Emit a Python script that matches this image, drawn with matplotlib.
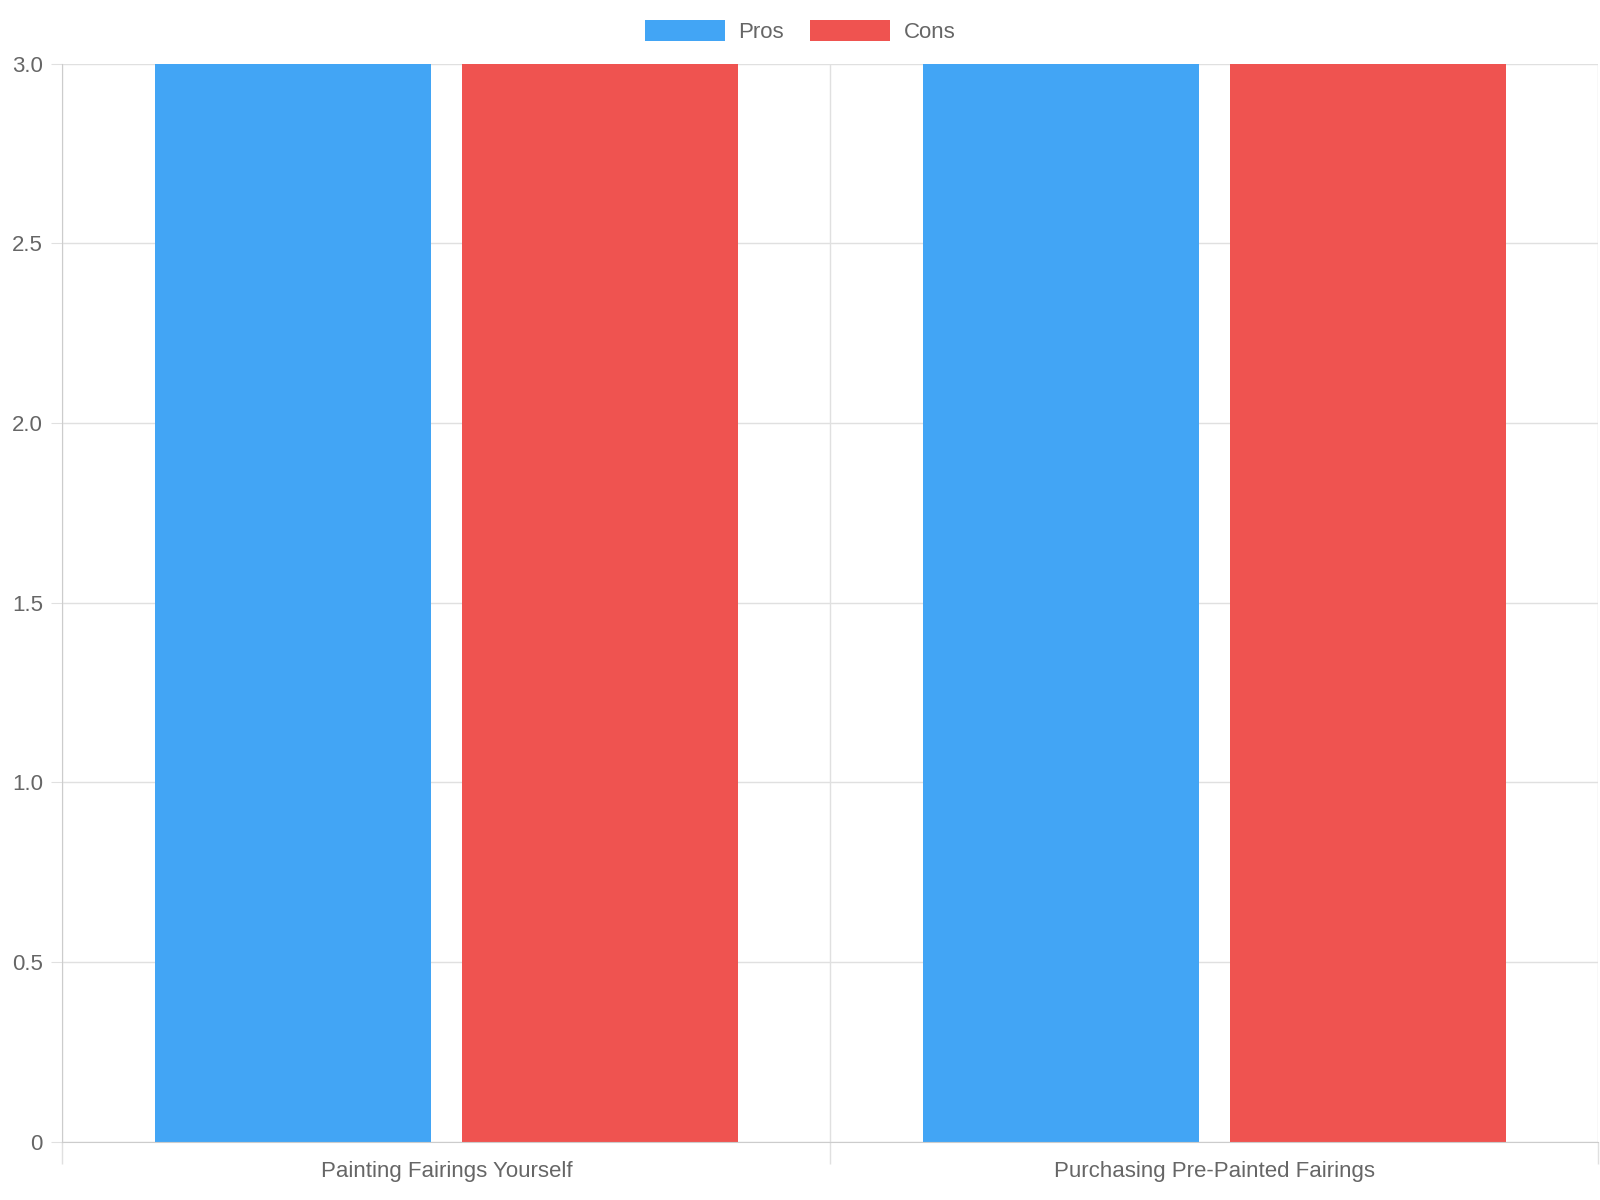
import numpy as np
import matplotlib.pyplot as plt
from matplotlib.ticker import FixedLocator, NullFormatter, FixedFormatter

plt.rcParams['font.family'] = ['Liberation Sans', 'DejaVu Sans']

categories = ["Painting Fairings Yourself", "Purchasing Pre-Painted Fairings"]
pros = [3, 3]
cons = [3, 3]
y_ticks = [0, 0.5, 1.0, 1.5, 2.0, 2.5, 3.0]
y_labels = ["0", "0.5", "1.0", "1.5", "2.0", "2.5", "3.0"]

TEXT = '#666666'
GRID = '#e0e0e0'

fig = plt.figure(figsize=(16, 12), dpi=100)
ax = fig.add_axes([0.039, 0.0485, 0.96, 0.8985])

x = np.arange(len(categories))
ax.bar(x - 0.2, pros, width=0.36, color='#42a5f5', label='Pros')
ax.bar(x + 0.2, cons, width=0.36, color='#ef5350', label='Cons')

ax.set_xlim(-0.5, len(categories) - 0.5)
ax.set_ylim(0, 3)

ax.set_yticks(y_ticks)
ax.set_yticklabels(y_labels)
ax.xaxis.set_major_locator(FixedLocator(x))
ax.xaxis.set_major_formatter(FixedFormatter(categories))
ax.xaxis.set_minor_locator(FixedLocator(np.arange(len(categories) + 1) - 0.5))
ax.tick_params(axis='x', which='major', length=0, pad=14, labelsize=16, labelcolor=TEXT)
ax.tick_params(axis='x', which='minor', length=16, color=GRID, width=1)
ax.tick_params(axis='y', length=8, color=GRID, labelsize=16, labelcolor=TEXT, pad=6)

ax.grid(True, axis='y', color=GRID, linewidth=1)
ax.grid(True, axis='x', which='minor', color=GRID, linewidth=1)
ax.set_axisbelow(True)
for side in ['top', 'right']:
    ax.spines[side].set_visible(False)
for side in ['left', 'bottom']:
    ax.spines[side].set_color('#cccccc')

fig.legend(loc='center', bbox_to_anchor=(0.5, 0.974), ncol=2, frameon=False,
           fontsize=16, labelcolor=TEXT, handlelength=3.6, handleheight=1.1,
           columnspacing=1.2, handletextpad=0.6)

fig.savefig('out.png', dpi=100)
